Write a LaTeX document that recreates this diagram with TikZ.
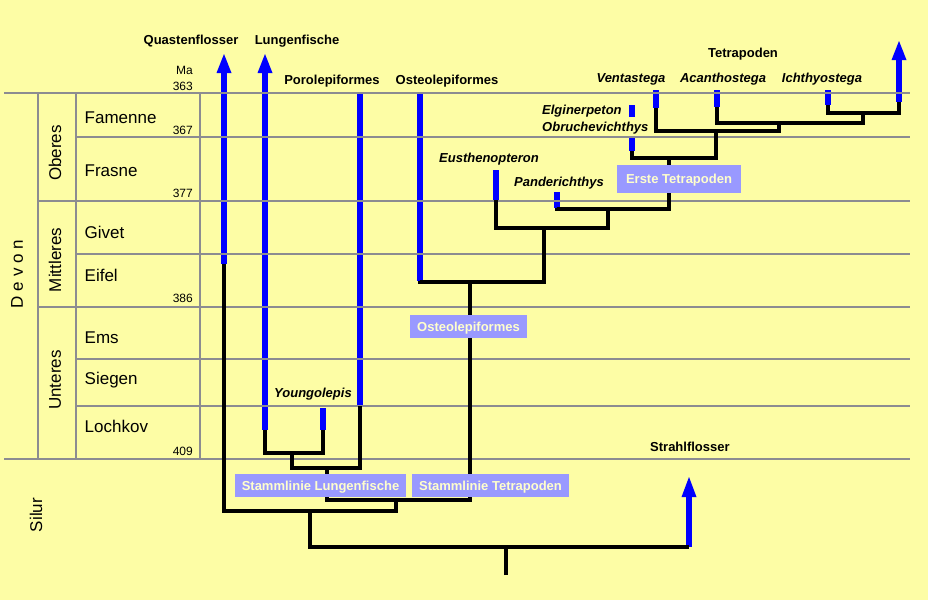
\documentclass[tikz,border=0pt]{standalone}
\usepackage{fontspec}
\setmainfont{Liberation Sans}
\definecolor{bgyellow}{RGB}{253,253,165}
\definecolor{barblue}{RGB}{0,0,255}
\definecolor{boxfill}{RGB}{153,153,255}
\definecolor{boxtext}{RGB}{255,255,204}
\definecolor{gridgrey}{RGB}{140,140,145}
\begin{document}
\begin{tikzpicture}[x=1pt,y=-1pt,
  bar/.style={fill=barblue, inner sep=0pt, outer sep=0pt, minimum width=6.5pt, anchor=north},
  tree/.style={draw=black, line width=3.2pt, line join=miter},
  gridline/.style={draw=gridgrey, line width=1.8pt},
  lbl/.style={inner sep=0pt, anchor=base, font=\fontsize{13}{15}\selectfont\bfseries},
  ital/.style={inner sep=0pt, anchor=base, font=\fontsize{13}{15}\selectfont\bfseries\itshape},
  stage/.style={inner sep=0pt, anchor=base west, font=\fontsize{17}{20}\selectfont},
  num/.style={inner sep=0pt, anchor=base east, font=\fontsize{12}{14}\selectfont},
  period/.style={inner sep=0pt, rotate=90, font=\fontsize{17}{20}\selectfont},
  tag/.style={fill=boxfill, text=boxtext, inner sep=0pt, text height=9.3pt, text depth=0pt, font=\fontsize{13}{15}\selectfont\bfseries},
  head/.style={fill=barblue}
]
% background
\fill[bgyellow] (0,0) rectangle (928,600);

% blue bars
\node[bar, minimum height=191pt] (quast)  at (224,73) {};
\node[bar, minimum height=357pt] (lungen) at (265,73) {};
\node[bar, minimum height=313pt] (poro)   at (360,93) {};
\node[bar, minimum height=188pt] (osteo)  at (420,93) {};
\node[bar, minimum height=30pt]  (eusth)  at (496,170) {};
\node[bar, minimum height=16pt]  (pander) at (557,192) {};
\node[bar, minimum height=22pt]  (youngo) at (323,408) {};
\node[bar, minimum height=12pt]  (elgin)  at (632,105) {};
\node[bar, minimum height=15pt]  (obru)   at (632,136) {};
\node[bar, minimum height=18pt]  (vent)   at (656,90) {};
\node[bar, minimum height=17pt]  (acan)   at (717,90) {};
\node[bar, minimum height=15pt]  (ichth)  at (828,90) {};
\node[bar, minimum height=42pt]  (tetra)  at (899,60) {};
\node[bar, minimum height=50pt]  (strahl) at (689,497) {};

% arrow heads
\fill[head] (quast.north)  ++(-7.5,0) -- ++(15,0) -- ++(-7.5,-19) -- cycle;
\fill[head] (lungen.north) ++(-7.5,0) -- ++(15,0) -- ++(-7.5,-19) -- cycle;
\fill[head] (tetra.north)  ++(-7.5,0) -- ++(15,0) -- ++(-7.5,-19) -- cycle;
\fill[head] (strahl.north) ++(-7.5,0) -- ++(15,0) -- ++(-7.5,-20) -- cycle;

% time table grid
\draw[gridline] (4,93) -- (910,93);
\draw[gridline] (76,137) -- (910,137);
\draw[gridline] (38,201) -- (910,201);
\draw[gridline] (76,254) -- (910,254);
\draw[gridline] (38,307) -- (910,307);
\draw[gridline] (76,359) -- (910,359);
\draw[gridline] (76,406) -- (910,406);
\draw[gridline] (4,459) -- (910,459);
\draw[gridline] (38,93) -- (38,459);
\draw[gridline] (76,93) -- (76,459);
\draw[gridline] (200,93) -- (200,459);

% junctions
\coordinate (r0)  at (506,575);
\coordinate (jS)  at (506,547);
\coordinate (jQ)  at (310,511);
\coordinate (jQr) at (396,511);
\coordinate (jT)  at (396,500);
\coordinate (jL)  at (327,468);
\coordinate (jY)  at (292,453);
\coordinate (jO)  at (470,282);
\coordinate (jE)  at (544,228);
\coordinate (jP)  at (608,209);
\coordinate (jT1) at (669,158);
\coordinate (jV)  at (716,131);
\coordinate (jA)  at (779,123);
\coordinate (jI)  at (863,113);

% tree
\draw[tree] (r0) -- (jS);
\draw[tree] (jQ) |- (strahl.south);
\draw[tree] (quast.south) |- (jQr) -- (jT);
\draw[tree] (jL) |- (jO |- jT) -- (jO);
\draw[tree] (lungen.south) |- (youngo.south |- jY) -- (youngo.south);
\draw[tree] (jY) |- (poro.south |- jL) -- (poro.south);
\draw[tree] (osteo.south) |- (jE |- jO) -- (jE);
\draw[tree] (eusth.south) |- (jP |- jE) -- (jP);
\draw[tree] (pander.south) |- (jT1 |- jP) -- (jT1);
\draw[tree] (obru.south) |- (jV |- jT1) -- (jV);
\draw[tree] (vent.south) |- (jA |- jV) -- (jA);
\draw[tree] (acan.south) |- (jI |- jA) -- (jI);
\draw[tree] (ichth.south) |- (tetra.south |- jI) -- (tetra.south);

% tag boxes
\node[tag, minimum width=124pt, minimum height=28pt] (erste) at (679,179) {Erste Tetrapoden};
\node[tag, minimum width=117pt, minimum height=23pt] (osteobox) at (468.5,326.5) {Osteolepiformes};
\node[tag, minimum width=171pt, minimum height=23pt] (stammL) at (320.5,485.5) {Stammlinie Lungenfische};
\node[tag, minimum width=157pt, minimum height=23pt] (stammT) at (490.5,485.5) {Stammlinie Tetrapoden};

% group labels
\node[lbl] (tquast) at (191,44) {Quastenflosser};
\node[lbl] (tlungen) at (297,44) {Lungenfische};
\node[lbl] (tporo) at (332,84) {Porolepiformes};
\node[lbl] (tosteo) at (447,84) {Osteolepiformes};
\node[lbl] (ttetra) at (743,57) {Tetrapoden};
\node[lbl, anchor=base west] (tstrahl) at (650,451) {Strahlflosser};

\node[ital] (tvent) at (631,82) {Ventastega};
\node[ital] (tacan) at (723,82) {Acanthostega};
\node[ital] (tichth) at (822,82) {Ichthyostega};
\node[ital, anchor=base west] (telgin) at (542,114) {Elginerpeton};
\node[ital, anchor=base west] (tobru) at (542,131) {Obruchevichthys};
\node[ital, anchor=base west] (teusth) at (439,162) {Eusthenopteron};
\node[ital, anchor=base west] (tpander) at (514,186) {Panderichthys};
\node[ital, anchor=base west] (tyoungo) at (274,397) {Youngolepis};

% stages
\node[stage] (sfam) at (84.5,123) {Famenne};
\node[stage] (sfra) at (84.5,176) {Frasne};
\node[stage] (sgiv) at (84.5,238) {Givet};
\node[stage] (seif) at (84.5,281) {Eifel};
\node[stage] (sems) at (84.5,343) {Ems};
\node[stage] (ssie) at (84.5,384) {Siegen};
\node[stage] (sloc) at (84.5,432) {Lochkov};

% ages
\node[num] (ma)  at (193,74) {Ma};
\node[num] (a363) at (193,90) {363};
\node[num] (a367) at (193,134) {367};
\node[num] (a377) at (193,197) {377};
\node[num] (a386) at (193,302) {386};
\node[num] (a409) at (193,455) {409};

% periods and epochs
\node[period] (pober) at (55,153) {Oberes};
\node[period] (pmitt) at (55,260) {Mittleres};
\node[period] (punt) at (55,380) {Unteres};
\node[period] (pdevon) at (17,274) {D e v o n};
\node[period] (psilur) at (36,515) {Silur};
\end{tikzpicture}
\end{document}
